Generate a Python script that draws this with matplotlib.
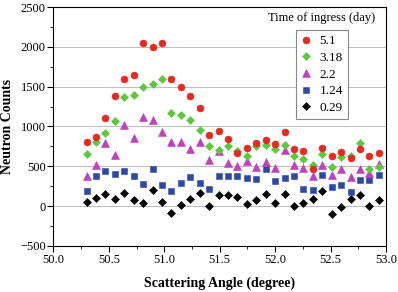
import matplotlib
matplotlib.use("Agg")
import matplotlib.pyplot as plt
from matplotlib.ticker import MultipleLocator

plt.rcParams['font.family'] = ['Liberation Serif', 'DejaVu Serif']

angle = [50.30, 50.385, 50.47, 50.555, 50.64, 50.725, 50.81, 50.895, 50.98,
         51.065, 51.15, 51.235, 51.32, 51.405, 51.49, 51.575, 51.66, 51.745,
         51.83, 51.915, 52.00, 52.085, 52.17, 52.255, 52.34, 52.425, 52.51,
         52.595, 52.68, 52.765, 52.85, 52.935]

d5_1 = [800, 867, 1108, 1383, 1600, 1642, 2050, 2000, 2054, 1596, 1500, 1388,
        1233, 896, 946, 842, 662, 729, 796, 825, 779, 933, 712, 692, 467, 729,
        625, 679, 608, 717, 625, 671]
d3_18 = [650, 800, 912, 1067, 1371, 1400, 1492, 1533, 1596, 1175, 1146, 1083,
         958, 750, 700, 754, 692, 625, 754, 771, 712, 762, 625, 592, 521, 654,
         492, 617, 625, 796, 471, 492]
d2_2 = [375, 512, 796, 646, 1017, 858, 1121, 1075, 929, 800, 808, 721, 804,
        575, 690, 542, 508, 571, 492, 558, 475, 700, 521, 483, 375, 512, 396,
        471, 367, 471, 417, 529]
d1_24 = [187, 375, 442, 408, 442, 383, 279, 471, 267, 187, 288, 367, 288, 208,
         383, 383, 379, 354, 342, 471, 312, 350, 383, 217, 196, 388, 242, 262,
         171, 333, 325, 396]
d0_29 = [54, 104, 154, 87, 167, 75, 37, 196, 54, -83, 8, 83, 167, 0, 133, 133,
         117, 29, 75, 150, 37, 146, 4, 33, 83, 192, -96, -12, 92, 142, 4, 79]

labels = ['5.1', '3.18', '2.2', '1.24', '0.29']
series = [d5_1, d3_18, d2_2, d1_24, d0_29]
markers = ['o', 'D', '^', 's', 'D']
colors = ['#e8291f', '#5cc93a', '#c040bf', '#2c49a6', '#000000']
sizes = [5.0, 4.2, 5.2, 4.3, 4.2]

fig = plt.figure(figsize=(3.98, 2.92), dpi=100)
ax = fig.add_axes([0.134, 0.158, 0.836, 0.818])

handles = {}
for lab, ys, m, c, s in reversed(list(zip(labels, series, markers, colors, sizes))):
    h, = ax.plot(angle, ys, linestyle='none', marker=m, color=c, markersize=s,
                 markeredgewidth=0.4, markeredgecolor=c, label=lab)
    handles[lab] = h

ax.set_xlim(50.0, 53.0)
ax.set_ylim(-500, 2500)
ax.xaxis.set_major_locator(MultipleLocator(0.5))
ax.xaxis.set_minor_locator(MultipleLocator(0.25))
ax.yaxis.set_minor_locator(MultipleLocator(250))
ax.tick_params(axis='both', which='major', direction='out', length=4, width=0.8,
               labelsize=9, top=False, right=False, pad=1.5)
ax.tick_params(axis='both', which='minor', direction='out', length=2, width=0.6,
               top=False, right=False)
ax.set_yticks([-500, 0, 500, 1000, 1500, 2000, 2500])
ax.set_yticklabels(['\u2212500', '0', '500', '1000', '1500', '2000', '2500'])
ax.grid(axis='y', which='major', color='#bbbbbb', linewidth=0.7)
ax.set_axisbelow(True)
for sp in ax.spines.values():
    sp.set_linewidth(0.8)

ax.set_xlabel('Scattering Angle (degree)', fontsize=10, fontweight='bold', labelpad=8)
ax.set_ylabel('Neutron Counts', fontsize=10, fontweight='bold', labelpad=4)

leg = ax.legend([handles[l] for l in labels], labels, loc='upper left',
                bbox_to_anchor=(0.729, 0.904), fontsize=9.5, frameon=True,
                fancybox=False, edgecolor='#888888', framealpha=1,
                handlelength=0.8, handletextpad=0.6, labelspacing=0.33,
                borderpad=0.4, borderaxespad=0)
leg.get_frame().set_linewidth(0.8)
ax.text(0.806, 0.955, 'Time of ingress (day)', transform=ax.transAxes,
        ha='center', va='center', fontsize=9)

fig.savefig('out.png', dpi=100)
